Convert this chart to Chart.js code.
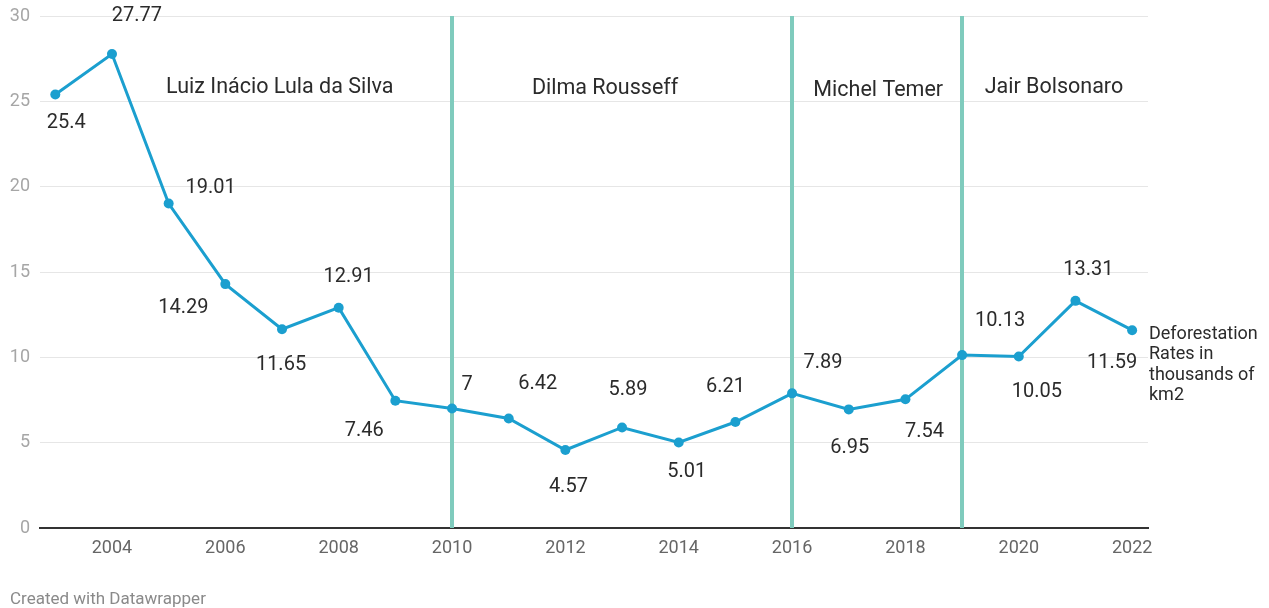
<!DOCTYPE html>
<html>
<head>
<meta charset="utf-8">
<script src="https://cdn.jsdelivr.net/npm/chart.js@4.4.1/dist/chart.umd.min.js"></script>
<style>
  html, body { margin: 0; padding: 0; background: #fff; }
  #wrap { position: relative; width: 1269px; height: 608px; }
  #credit { position: absolute; left: 10px; top: 588px; font: 17px Roboto, sans-serif; color: #8a8a8a; }
</style>
</head>
<body>
<div id="wrap">
  <canvas id="chart"></canvas>
  <div id="credit">Created with Datawrapper</div>
</div>
<script>
// Data
const years = [2003, 2004, 2005, 2006, 2007, 2008, 2009, 2010, 2011, 2012,
               2013, 2014, 2015, 2016, 2017, 2018, 2019, 2020, 2021, 2022];
const rates = [25.4, 27.77, 19.01, 14.29, 11.65, 12.91, 7.46, 7, 6.42, 4.57,
               5.89, 5.01, 6.21, 7.89, 6.95, 7.54, 10.13, 10.05, 13.31, 11.59];
const xTicks = [2004, 2006, 2008, 2010, 2012, 2014, 2016, 2018, 2020, 2022];
const yTicks = [0, 5, 10, 15, 20, 25, 30];
const termStarts = [2010, 2016, 2019];
const presidents = ['Luiz Inácio Lula da Silva', 'Dilma Rousseff', 'Michel Temer', 'Jair Bolsonaro'];
const presidentAt = [[2006.96, 25.47], [2012.70, 25.43], [2017.52, 25.31], [2020.62, 25.49]];
const seriesLabel = ['Deforestation', 'Rates in', 'thousands of', 'km2'];

// where each value label sits relative to its point (px)
const labelOffsets = [
    [11, 28], [25, -38], [42, -16], [-42, 24], [-1, 36], [10, -31], [-31, 30],
    [15, -24], [29, -34], [3, 37], [6, -37], [8, 30], [-10, -35], [31, -30],
    [1, 39], [19, 33], [38, -34], [18, 36], [13, -31], [-20, 33]
];

const LINE_COLOR = '#1b9fcf';
const TERM_COLOR = '#7fcbbd';
const TEXT_COLOR = '#2b2b2b';
const FONT = 'Roboto, sans-serif';

// Vertical lines at the start of each term
const termLines = {
    id: 'termLines',
    beforeDatasetsDraw: function (chart) {
        const ctx = chart.ctx;
        const area = chart.chartArea;
        const x = chart.scales.x;
        ctx.save();
        ctx.strokeStyle = TERM_COLOR;
        ctx.lineWidth = 4;
        termStarts.forEach(function (yr) {
            const px = Math.round(x.getPixelForValue(yr));
            ctx.beginPath();
            ctx.moveTo(px, area.top);
            ctx.lineTo(px, area.bottom);
            ctx.stroke();
        });
        ctx.restore();
    }
};

// Value labels, president names and the series label
const textLayer = {
    id: 'textLayer',
    afterDatasetsDraw: function (chart) {
        const ctx = chart.ctx;
        const meta = chart.getDatasetMeta(0);
        const xs = chart.scales.x;
        const ys = chart.scales.y;
        ctx.save();
        ctx.fillStyle = TEXT_COLOR;
        ctx.textAlign = 'center';
        ctx.textBaseline = 'middle';

        ctx.font = '20px ' + FONT;
        meta.data.forEach(function (pt, i) {
            const off = labelOffsets[i];
            ctx.fillText(String(rates[i]), pt.x + off[0], pt.y + off[1]);
        });

        ctx.textBaseline = 'alphabetic';
        ctx.font = '21.5px ' + FONT;
        presidents.forEach(function (name, i) {
            const p = presidentAt[i];
            ctx.fillText(name, xs.getPixelForValue(p[0]), ys.getPixelForValue(p[1]));
        });

        const last = meta.data[meta.data.length - 1];
        ctx.textAlign = 'left';
        ctx.textBaseline = 'middle';
        ctx.font = '18px ' + FONT;
        seriesLabel.forEach(function (line, i) {
            ctx.fillText(line, chart.chartArea.right + 1, last.y + 4 + i * 20.5);
        });
        ctx.restore();
    }
};

new Chart(document.getElementById('chart'), {
    type: 'line',
    data: {
        datasets: [{
            label: 'Deforestation Rates in thousands of km2',
            data: years.map(function (yr, i) { return { x: yr, y: rates[i] }; }),
            borderColor: LINE_COLOR,
            backgroundColor: LINE_COLOR,
            borderWidth: 3,
            pointRadius: 5,
            pointBorderWidth: 0,
            pointBackgroundColor: LINE_COLOR,
            tension: 0,
            clip: false
        }]
    },
    options: {
        responsive: true,
        maintainAspectRatio: false,
        animation: false,
        layout: { padding: { top: 16, right: 121, left: 0, bottom: 0 } },
        plugins: {
            legend: { display: false },
            tooltip: { enabled: false }
        },
        scales: {
            x: {
                type: 'linear',
                min: 2002.73,
                max: 2022.28,
                afterBuildTicks: function (scale) {
                    scale.ticks = xTicks.map(function (v) { return { value: v }; });
                },
                afterFit: function (scale) {
                    scale.height = 80;
                    scale.paddingLeft = 0;
                    scale.paddingRight = 0;
                },
                grid: { display: false, drawTicks: false },
                border: { display: true, color: '#333', width: 2 },
                ticks: {
                    padding: 10,
                    color: '#666',
                    font: { family: FONT, size: 18 },
                    callback: function (v) { return String(v); },
                    maxRotation: 0
                }
            },
            y: {
                min: 0,
                max: 30,
                afterBuildTicks: function (scale) {
                    scale.ticks = yTicks.map(function (v) { return { value: v }; });
                },
                afterFit: function (scale) {
                    scale.width = 40;
                    scale.paddingTop = 0;
                    scale.paddingBottom = 0;
                },
                grid: {
                    color: function (c) { return c.tick && c.tick.value === 0 ? 'rgba(0,0,0,0)' : '#e6e6e6'; },
                    lineWidth: 1,
                    drawTicks: false
                },
                border: { display: false },
                ticks: {
                    padding: 10,
                    color: '#a6a6a6',
                    font: { family: FONT, size: 18 }
                }
            }
        }
    },
    plugins: [termLines, textLayer]
});
</script>
</body>
</html>
